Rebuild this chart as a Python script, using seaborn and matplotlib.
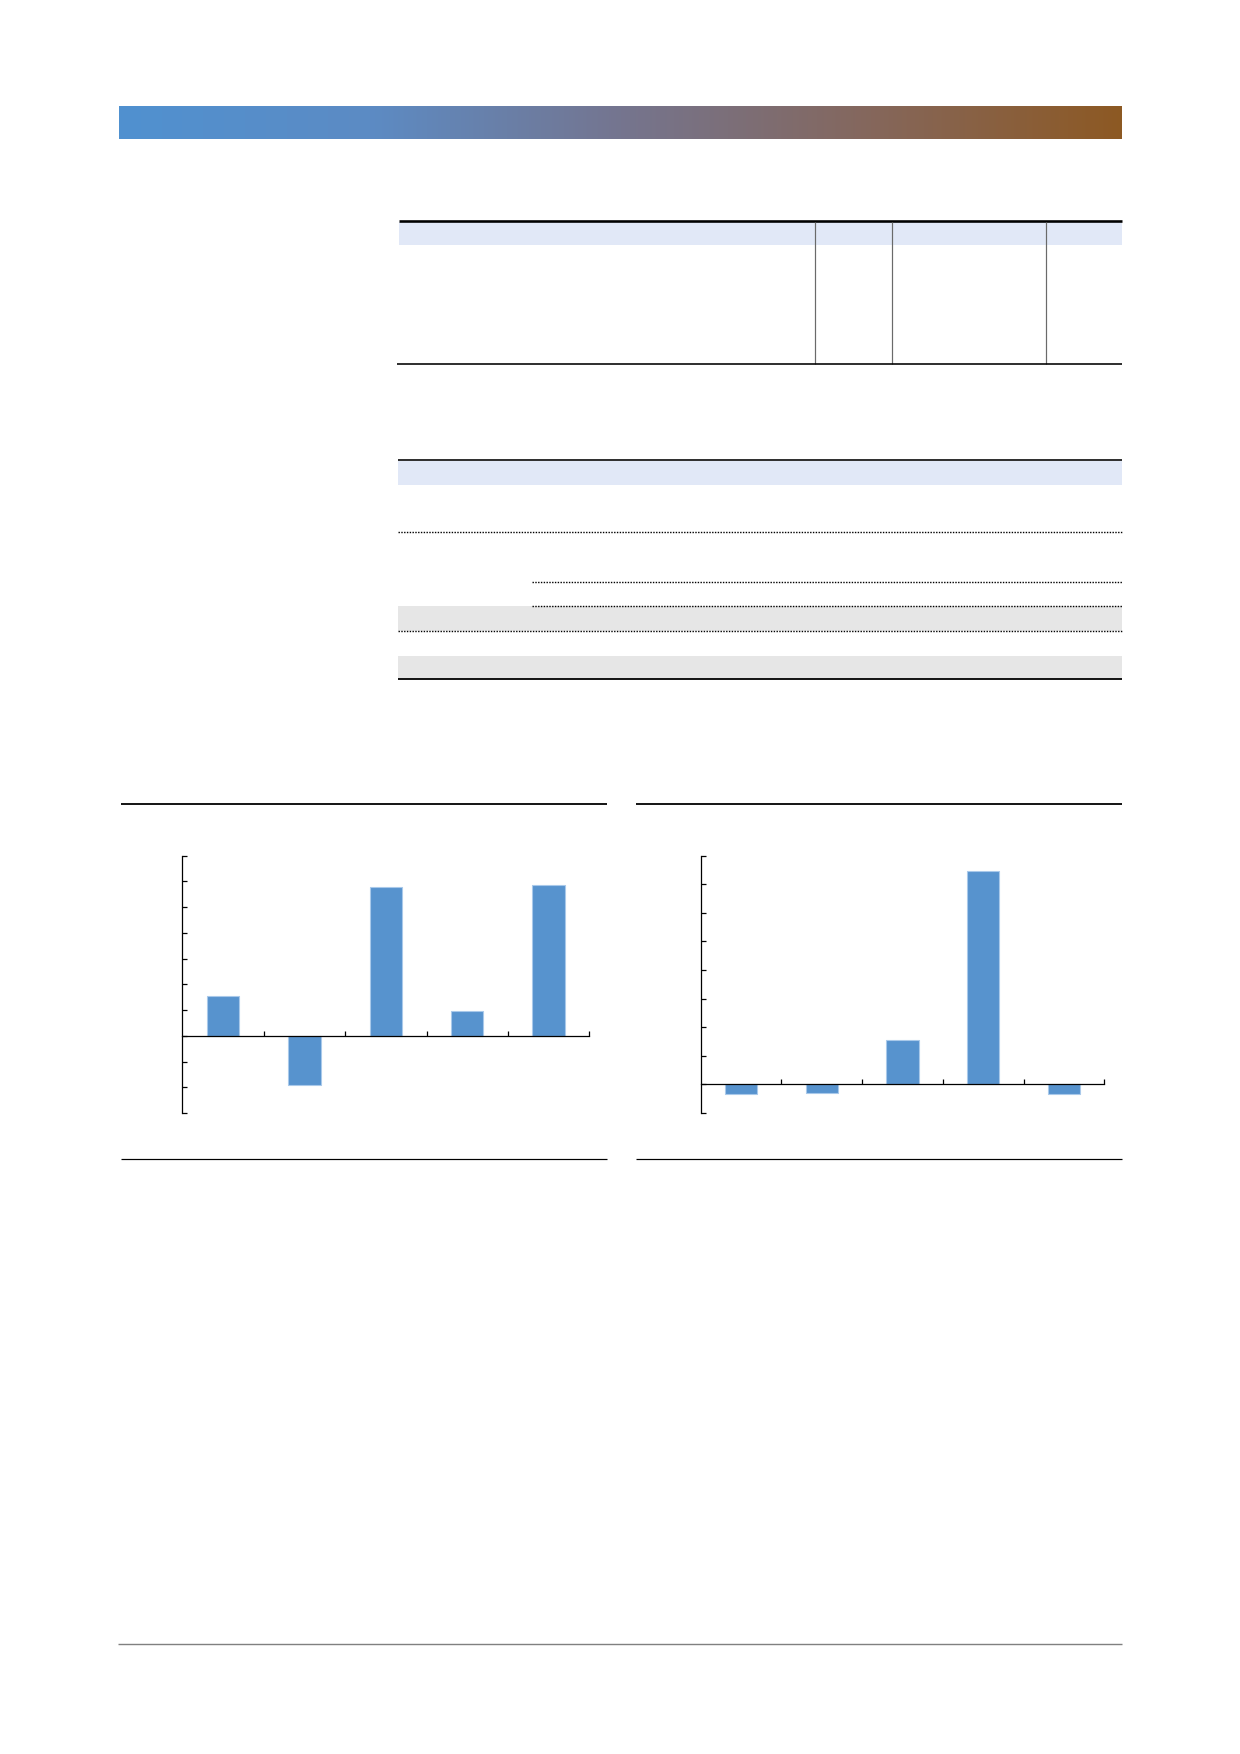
import numpy as np
import pandas as pd
import matplotlib
matplotlib.use("Agg")
import matplotlib.pyplot as plt
from matplotlib.patches import Rectangle
import seaborn as sns

# ---------------- data ----------------
categories = ["1", "2", "3", "4", "5"]
left_values = [1.55, -1.93, 5.79, 0.95, 5.87]
right_values = [-0.35, -0.31, 1.57, 7.47, -0.33]
left_yticks = [-3, -2, -1, 0, 1, 2, 3, 4, 5, 6, 7]
right_yticks = [-1, 0, 1, 2, 3, 4, 5, 6, 7, 8]

W, H = 1240, 1754
sns.set_theme(style="white")
plt.rcParams['font.family'] = ['DejaVu Sans']

fig = plt.figure(figsize=(W / 100, H / 100), dpi=100)
fig.patch.set_facecolor('white')

bg = fig.add_axes([0, 0, 1, 1], zorder=0)
bg.set_xlim(0, W)
bg.set_ylim(H, 0)
bg.axis('off')
bg.patch.set_alpha(0)


def pt(v):
    return v * 0.72


def hline(y, x0, x1, lw, color='black', ls='-'):
    bg.plot([x0, x1], [y, y], color=color, lw=pt(lw), ls=ls,
            solid_capstyle='butt', dash_capstyle='butt')


def vline(x, y0, y1, lw, color='black'):
    bg.plot([x, x], [y0, y1], color=color, lw=pt(lw), solid_capstyle='butt')


def rect(x0, y0, x1, y1, color):
    bg.add_patch(Rectangle((x0, y0), x1 - x0, y1 - y0, facecolor=color,
                           edgecolor='none'))


# ---------------- header gradient bar ----------------
stops = [(0.0, (80, 145, 208)), (0.25, (92, 139, 196)),
         (0.5, (117, 117, 143)), (0.75, (133, 103, 92)),
         (1.0, (141, 89, 35))]
n = 600
t = np.linspace(0, 1, n)
pos = [s[0] for s in stops]
grad = np.zeros((1, n, 3))
for c in range(3):
    grad[0, :, c] = np.interp(t, pos, [s[1][c] for s in stops]) / 255.0
bg.imshow(grad, extent=[118.5, 1121.5, 138.7, 106], aspect='auto',
          interpolation='bilinear', zorder=1)
bg.set_xlim(0, W)
bg.set_ylim(H, 0)

# ---------------- table 1 ----------------
rect(399, 222, 1121.5, 244.7, '#E1E8F7')
hline(221, 399, 1121.5, 2.6)
for xv in [814.7, 891.6, 1045.5]:
    vline(xv, 222, 364, 1.2, '#6a6a6a')
hline(364.3, 397, 1121.5, 1.6)

# ---------------- table 2 ----------------
rect(398, 461, 1121.5, 484.7, '#E1E8F7')
rect(398, 606, 1121.5, 631, '#E6E6E6')
rect(398, 656, 1121.5, 679, '#E6E6E6')
hline(460.3, 398, 1121.5, 1.6)
hline(532, 398, 1121.5, 1.4, ls=(0, (1, 1)))
hline(582.3, 531.6, 1121.5, 1.4, ls=(0, (1, 1)))
hline(606, 531.6, 1121.5, 1.4, ls=(0, (1, 1)))
hline(631.3, 398, 1121.5, 1.4, ls=(0, (1, 1)))
hline(679.3, 398, 1121.5, 1.8)

# ---------------- chart panels ----------------
hline(803.7, 121, 607, 1.8)
hline(1159, 121, 607, 1.2)
hline(803.7, 636, 1122, 1.8)
hline(1159, 636, 1122, 1.2)

# ---------------- footer ----------------
hline(1644.3, 118, 1122, 1.4, color='#808080')


def bar_chart(x0, x1, y0, y1, values, yticks):
    ax = fig.add_axes([x0 / W, 1 - y1 / H, (x1 - x0) / W, (y1 - y0) / H],
                      zorder=2)
    ax.patch.set_alpha(0)
    df = pd.DataFrame({'category': categories, 'value': values})
    sns.barplot(data=df, x='category', y='value', color='#5793CE',
                saturation=1, width=0.4, edgecolor='#a9c9ea', linewidth=0.8,
                ax=ax)
    ax.set_xlim(-0.5, len(categories) - 0.5)
    ax.set_ylim(yticks[0], yticks[-1])
    ax.set_xticks(np.arange(len(categories)) + 0.5)
    ax.set_yticks(yticks)
    ax.set_xticklabels([])
    ax.set_yticklabels([])
    ax.set_xlabel('')
    ax.set_ylabel('')
    for s in ['top', 'right']:
        ax.spines[s].set_visible(False)
    ax.spines['bottom'].set_position(('data', 0))
    for s in ['left', 'bottom']:
        ax.spines[s].set_color('black')
        ax.spines[s].set_linewidth(0.9)
    ax.tick_params(axis='both', which='both', direction='in', length=3.8,
                   width=0.9, color='black', bottom=True, left=True)
    ax.grid(False)
    return ax


bar_chart(182.3, 589.3, 855.7, 1113, left_values, left_yticks)
bar_chart(700.7, 1104.3, 855.7, 1113, right_values, right_yticks)

fig.savefig('out.png', dpi=100, facecolor='white')
